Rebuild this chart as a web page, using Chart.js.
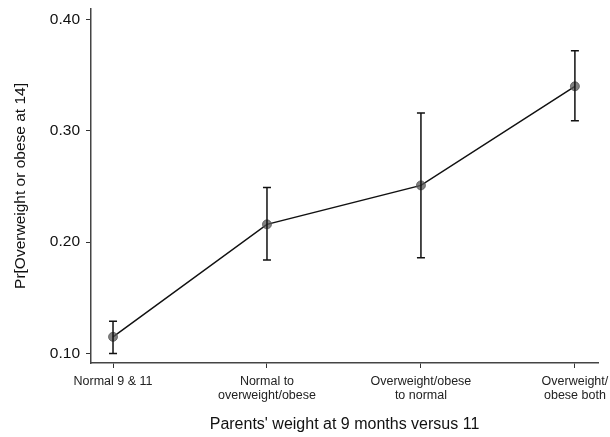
<!DOCTYPE html>
<html>
<head>
<meta charset="utf-8">
<script src="https://cdn.jsdelivr.net/npm/chart.js@4"></script>
<style>
  html, body { margin: 0; padding: 0; background: #fff; }
  #wrap { width: 610px; height: 437px; }
</style>
</head>
<body>
<div id="wrap"><canvas id="myChart" width="610" height="437"></canvas></div>
<script>
// categories on x (positions 1..4), labels can be multi-line
var categories = [
  ["Normal 9 & 11"],
  ["Normal to", "overweight/obese"],
  ["Overweight/obese", "to normal"],
  ["Overweight/", "obese both"]
];
var estimates = [0.115, 0.216, 0.251, 0.340];
var ciLow = [0.100, 0.184, 0.186, 0.309];
var ciHigh = [0.129, 0.249, 0.316, 0.372];
var yTicks = [0.10, 0.20, 0.30, 0.40];

var points = estimates.map(function(v, i){ return {x: i + 1, y: v}; });

// error bars w/ caps, drawn on top of the scales
var errorBars = {
  id: "errorBars",
  afterDatasetsDraw: function(chart){
    var ctx = chart.ctx;
    var xs = chart.scales.x, ys = chart.scales.y;
    ctx.save();
    ctx.strokeStyle = "#111";
    ctx.lineWidth = 1.5;
    for (var i = 0; i < estimates.length; i++) {
      var px = xs.getPixelForValue(i + 1);
      var top = ys.getPixelForValue(ciHigh[i]);
      var bot = ys.getPixelForValue(ciLow[i]);
      ctx.beginPath();
      ctx.moveTo(px, top); ctx.lineTo(px, bot);
      ctx.moveTo(px - 4, top); ctx.lineTo(px + 4, top);
      ctx.moveTo(px - 4, bot); ctx.lineTo(px + 4, bot);
      ctx.stroke();
    }
    ctx.restore();
  }
};

var font = "'Liberation Sans', Arial, sans-serif";

var ctx = document.getElementById("myChart").getContext("2d");
var myChart = new Chart(ctx, {
  type: "line",
  data: {
    datasets: [{
      data: points,
      borderColor: "#111",
      borderWidth: 1.5,
      pointRadius: 4.5,
      pointBackgroundColor: "rgba(85,85,85,0.75)",
      pointBorderColor: "rgba(85,85,85,0.75)",
      pointBorderWidth: 1,
      tension: 0,
      fill: false
    }]
  },
  options: {
    responsive: false,
    animation: false,
    layout: { padding: { top: 9, right: 12, left: 0, bottom: 0 } },
    plugins: { legend: { display: false }, tooltip: { enabled: false } },
    scales: {
      x: {
        type: "linear",
        min: 0.857,
        max: 4.15,
        afterBuildTicks: function(scale){
          scale.ticks = categories.map(function(c, i){ return {value: i + 1}; });
        },
        // fixed box, no extra room for overhanging labels
        afterFit: function(scale){ scale.height = 74; scale.paddingLeft = 0; scale.paddingRight = 0; },
        ticks: {
          autoSkip: false,
          maxRotation: 0,
          padding: 6,
          color: "#222",
          font: { family: font, size: 12.5, lineHeight: 1.15 },
          callback: function(v){ return categories[v - 1]; }
        },
        grid: { drawOnChartArea: false, drawTicks: true, tickLength: 5, color: "#333", lineWidth: 1 },
        border: { display: true, color: "#444", width: 1.5 },
        title: {
          display: true,
          text: "Parents' weight at 9 months versus 11",
          color: "#111",
          font: { family: font, size: 16 },
          padding: { top: 0, bottom: 3 }
        }
      },
      y: {
        min: 0.0915,
        max: 0.4094,
        afterBuildTicks: function(scale){
          scale.ticks = yTicks.map(function(v){ return {value: v}; });
        },
        afterFit: function(scale){ scale.width = 91; scale.paddingTop = 0; scale.paddingBottom = 0; },
        ticks: {
          padding: 6,
          color: "#111",
          font: { family: font, size: 15.5 },
          callback: function(v){ return v.toFixed(2); }
        },
        grid: { drawOnChartArea: false, drawTicks: true, tickLength: 5, color: "#333", lineWidth: 1 },
        border: { display: true, color: "#444", width: 1.5 },
        title: {
          display: true,
          text: "Pr[Overweight or obese at 14]",
          color: "#111",
          font: { family: font, size: 15.5 },
          padding: { top: 11, bottom: 0 }
        }
      }
    }
  },
  plugins: [errorBars]
});
</script>
</body>
</html>
